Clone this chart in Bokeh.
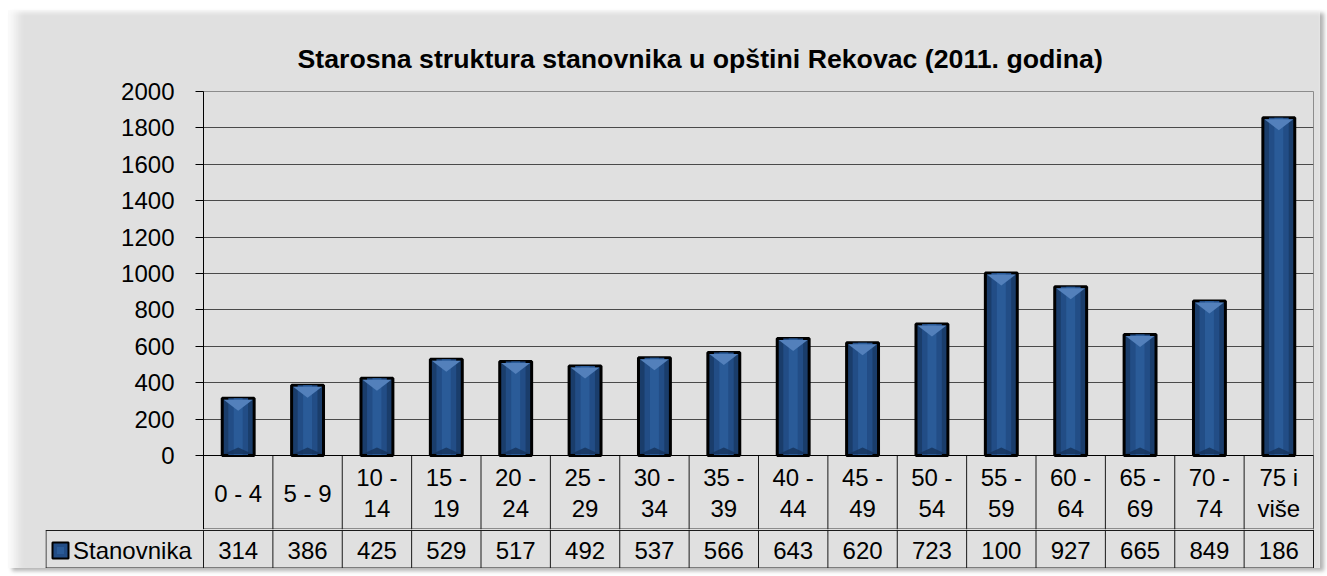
from bokeh.plotting import figure
from bokeh.models import Range1d, FixedTicker, Span
from bokeh.layouts import column
from bokeh.embed import file_html
from bokeh.resources import INLINE
from bokeh.core.properties import value

# ---------------- data ----------------
categories = ["0 - 4", "5 - 9", "10 -\n14", "15 -\n19", "20 -\n24", "25 -\n29",
              "30 -\n34", "35 -\n39", "40 -\n44", "45 -\n49", "50 -\n54",
              "55 -\n59", "60 -\n64", "65 -\n69", "70 -\n74", "75 i\nviše"]
stanovnika = [314, 386, 425, 529, 517, 492, 537, 566, 643, 620, 723,
              1003, 927, 665, 849, 1856]
table_labels = ["314", "386", "425", "529", "517", "492", "537", "566",
                "643", "620", "723", "100", "927", "665", "849", "186"]
y_ticks = [0, 200, 400, 600, 800, 1000, 1200, 1400, 1600, 1800, 2000]
series_name = "Stanovnika"
title_text = "Starosna struktura stanovnika u opštini Rekovac (2011. godina)"

# ---------------- styles / layout ----------------
FONT = "Liberation Sans"
BG = "#e0e0e0"
BAR_DARK = "#1a3d6b"
BAR_MID = "#224d86"
BAR_LIGHT = "#2a5b98"
BEVEL_TOP = "#5380bb"
BEVEL_BOT = "#15325a"
GRID = "#1a1a1a"

W = 1312
N = len(categories)
BORDER_L_A = 195
BORDER_R = 7
CAT_PX = (W - BORDER_L_A - BORDER_R) / N
PX_PER_UNIT = 364 / 2000.0
ROW1_PX = 74                       # category row height below zero (px)
Y_BOTTOM_A = -ROW1_PX / PX_PER_UNIT

xs = [i + 0.5 for i in range(N)]
bar_w = 0.46
bounds = list(range(N + 1))

# ---------------- chart + category row (figure A) ----------------
pa = figure(width=W, height=519, output_backend="svg", toolbar_location=None,
            x_range=Range1d(0, N), y_range=Range1d(Y_BOTTOM_A, 2000),
            min_border_left=BORDER_L_A, min_border_right=BORDER_R,
            min_border_top=81, min_border_bottom=0)
pa.frame_align = False
pa.background_fill_color = None
pa.border_fill_color = None
pa.outline_line_color = "#8c8c8c"
pa.xaxis.visible = False
pa.xgrid.visible = False

pa.yaxis.ticker = FixedTicker(ticks=y_ticks)
pa.yaxis.axis_line_color = "black"
pa.yaxis.axis_line_width = 1
pa.yaxis.major_tick_out = 8
pa.yaxis.major_tick_in = 0
pa.yaxis.major_tick_line_color = "black"
pa.yaxis.minor_tick_line_color = None
pa.yaxis.major_label_text_font = FONT
pa.yaxis.major_label_text_font_size = "24px"
pa.yaxis.major_label_text_color = "black"
pa.yaxis.major_label_standoff = 21

pa.ygrid.ticker = FixedTicker(ticks=y_ticks)
pa.ygrid.grid_line_color = "#4a4a4a"
pa.ygrid.grid_line_width = 1

pa.title.text = title_text
pa.title.text_font = FONT
pa.title.text_font_size = "26.7px"
pa.title.text_font_style = "bold"
pa.title.text_color = "black"
pa.title.align = "left"
pa.title.offset = 94
pa.title.standoff = 36

pa.add_layout(Span(location=0, dimension="width", line_color="black", line_width=1))

# category row cell borders
pa.segment(x0=bounds, y0=[0] * (N + 1), x1=bounds, y1=[Y_BOTTOM_A] * (N + 1),
           line_color=GRID, line_width=1)
pa.text(x=xs, y=[-37.5 / PX_PER_UNIT] * N, text=categories, text_font=value(FONT),
        text_font_size="24px", text_align="center", text_baseline="middle",
        text_line_height=1.15, text_color="black")

# bars: layered to imitate the bevel shading
pa.vbar(x=xs, top=stanovnika, bottom=0, width=bar_w, fill_color=BAR_DARK,
        line_color="black", line_width=3)
pa.vbar(x=xs, top=stanovnika, bottom=0, width=bar_w * 0.62, fill_color=BAR_MID,
        line_color=None)
pa.vbar(x=xs, top=stanovnika, bottom=0, width=bar_w * 0.28, fill_color=BAR_LIGHT,
        line_color=None)

hw = bar_w / 2 - 1.5 / CAT_PX
inset = 1.5 / PX_PER_UNIT
depth = 11 / PX_PER_UNIT
tri_x = [[x - hw, x + hw, x] for x in xs]
tri_y = [[v - inset, v - inset, v - inset - depth] for v in stanovnika]
pa.patches(tri_x, tri_y, fill_color=BEVEL_TOP, line_color=None)
bot_y = [[inset, inset, inset + depth * 0.6] for v in stanovnika]
pa.patches(tri_x, bot_y, fill_color=BEVEL_BOT, line_color=None, fill_alpha=0.8)

# ---------------- value row (figure B) ----------------
BORDER_L_B = 37
left_units = (BORDER_L_A - BORDER_L_B) / CAT_PX
pb = figure(width=W, height=39, output_backend="svg", toolbar_location=None,
            x_range=Range1d(-left_units, N + 1.0 / CAT_PX), y_range=Range1d(-38, 1),
            min_border_left=BORDER_L_B, min_border_right=BORDER_R - 1,
            min_border_top=0, min_border_bottom=0)
pb.frame_align = False
pb.background_fill_color = None
pb.border_fill_color = None
pb.outline_line_color = None
pb.axis.visible = False
pb.grid.visible = False

ROW_TOP = 0
ROW_BOT = -37.5
pb.segment(x0=bounds, y0=[1] * (N + 1), x1=bounds, y1=[ROW_BOT] * (N + 1),
           line_color=GRID, line_width=1)
edge = -left_units + 0.5 / CAT_PX
pb.segment(x0=[edge], y0=[ROW_TOP], x1=[edge], y1=[ROW_BOT],
           line_color=GRID, line_width=1)
pb.segment(x0=[-left_units, -left_units], y0=[ROW_TOP, ROW_BOT],
           x1=[N, N], y1=[ROW_TOP, ROW_BOT], line_color=GRID, line_width=1)

pb.text(x=xs, y=[-20] * N, text=table_labels, text_font=value(FONT),
        text_font_size="24px", text_align="center", text_baseline="middle",
        text_color="black")

# legend key + series name
key_x = (60 - 203) / CAT_PX
name_x = (72.5 - 203) / CAT_PX
pb.scatter(x=[key_x], y=[-20], marker="square", size=16, fill_color=BAR_MID,
           line_color="black", line_width=2)
pb.scatter(x=[key_x], y=[-20], marker="square", size=7, fill_color=BAR_LIGHT,
           line_color=None)
pb.text(x=[name_x], y=[-20], text=[series_name], text_font=value(FONT),
        text_font_size="24px", text_align="left", text_baseline="middle",
        text_color="black")

layout = column(pa, pb, spacing=0,
                styles={"margin-left": "8px", "margin-top": "10px",
                        "background-color": BG,
                        "box-shadow": ("inset 16px 0 10px -8px #fbfbfb, "
                                       "inset 0 4px 4px -2px #fbfbfb, "
                                       "inset 1px 0 0 0 #c4c4c4, "
                                       "4px 3px 4px #b4b4b4")})

open("out.html", "w").write(file_html(layout, INLINE))
